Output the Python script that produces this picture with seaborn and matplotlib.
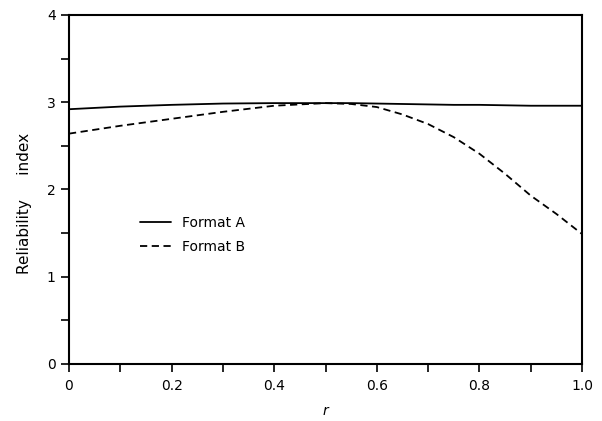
import numpy as np
import pandas as pd
import matplotlib
matplotlib.use("Agg")
import matplotlib.pyplot as plt
import seaborn as sns

r_values = [0.0, 0.1, 0.2, 0.3, 0.4, 0.5, 0.55, 0.6, 0.65, 0.7, 0.75, 0.8, 0.85, 0.9, 0.95, 1.0]
format_a = [2.92, 2.95, 2.97, 2.985, 2.99, 2.99, 2.99, 2.985, 2.98, 2.975, 2.97, 2.97, 2.965, 2.96, 2.96, 2.96]
format_b = [2.64, 2.73, 2.81, 2.89, 2.96, 2.99, 2.98, 2.945, 2.86, 2.75, 2.60, 2.41, 2.18, 1.93, 1.72, 1.49]
series_names = ["Format A", "Format B"]
x_ticks = [0.0, 0.2, 0.4, 0.6, 0.8, 1.0]
x_tick_labels = ["0", "0.2", "0.4", "0.6", "0.8", "1.0"]
x_minor_ticks = [0.1, 0.3, 0.5, 0.7, 0.9]
y_ticks = [0, 1, 2, 3, 4]
y_minor_ticks = [0.5, 1.5, 2.5, 3.5]

df = pd.DataFrame({
    "r": r_values * 2,
    "value": format_a + format_b,
    "series": [series_names[0]] * len(r_values) + [series_names[1]] * len(r_values),
})

sns.set_theme(style="ticks")
plt.rcParams["font.family"] = ["DejaVu Sans"]

fig = plt.figure(figsize=(6.02, 4.21), dpi=100)
ax = fig.add_axes([0.1146, 0.1354, 0.8522, 0.8290])

sns.lineplot(data=df, x="r", y="value", style="series", color="black",
             dashes={"Format A": "", "Format B": (4, 2.5)},
             linewidth=1.3, ax=ax, legend=True, estimator=None, sort=True)

ax.set_xlim(0, 1.0)
ax.set_ylim(0, 4)
ax.set_xticks(x_ticks)
ax.set_xticklabels(x_tick_labels)
ax.set_xticks(x_minor_ticks, minor=True)
ax.set_yticks(y_ticks)
ax.set_yticklabels([str(v) for v in y_ticks])
ax.set_yticks(y_minor_ticks, minor=True)
ax.tick_params(which="both", direction="out", length=6, width=1.2, color="black",
               labelsize=10, labelcolor="black")
ax.tick_params(axis="x", which="both", pad=5)
for s in ax.spines.values():
    s.set_visible(True)
    s.set_color("black")
    s.set_linewidth(1.5)

ax.set_xlabel("r", fontsize=10, color="black", style="italic", labelpad=8)
ax.set_ylabel("Reliability     index", fontsize=11, color="black")
ax.yaxis.set_label_coords(-0.072, 0.46)

leg = ax.legend(loc="upper left", bbox_to_anchor=(0.115, 0.46), frameon=False,
                fontsize=10, handlelength=2.2, labelspacing=0.7)
for t in leg.get_texts():
    t.set_color("black")
for h in leg.get_lines():
    h.set_color("black")

fig.savefig("out.png", dpi=100)
